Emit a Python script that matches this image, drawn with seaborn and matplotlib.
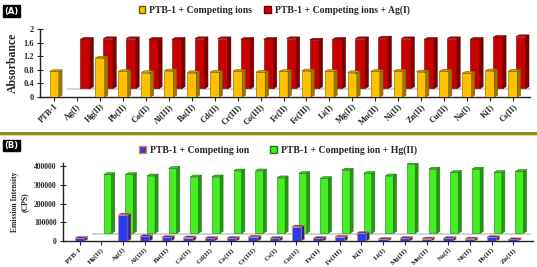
import matplotlib
matplotlib.use("Agg")
import matplotlib.pyplot as plt
from matplotlib.patches import Polygon, Patch
from matplotlib.lines import Line2D
import numpy as np
import seaborn as sns

nan = np.nan

# panel A: absorbance
ions_a = ["PTB-1", "Ag(I)", "Hg(II)", "Pb(II)", "Ca(II)", "Al(III)", "Ba(II)", "Cd(II)",
          "Cr(III)", "Co(III)", "Fe(II)", "Fe(III)", "Li(I)", "Mg(II)", "Mn(II)", "Ni(II)",
          "Zn(II)", "Cu(II)", "Na(I)", "K(I)", "Cs(II)"]
abs_ions = [0.75, nan, 1.15, 0.75, 0.72, 0.77, 0.72, 0.73, 0.76, 0.73, 0.75, 0.77,
            0.75, 0.72, 0.75, 0.76, 0.74, 0.76, 0.70, 0.77, 0.76]
abs_ions_ag = [nan, 1.70, 1.72, 1.72, 1.70, 1.70, 1.72, 1.72, 1.70, 1.70, 1.72, 1.68,
               1.70, 1.72, 1.74, 1.72, 1.70, 1.72, 1.70, 1.76, 1.78]

# panel B: emission intensity
ions_b = ["PTB-1", "Hg(II)", "Ag(I)", "Al(III)", "Ba(II)", "Ca(II)", "Cd(II)", "Co(II)",
          "Cr(III)", "Cs(I)", "Cu(II)", "Fe(II)", "Fe(III)", "K(I)", "Li(I)", "Mg(II)",
          "Mn(II)", "Na(I)", "Ni(II)", "Pb(II)", "Zn(II)"]
em_ions = [15000, nan, 140000, 25000, 20000, 18000, 15000, 15000, 22000, 15000, 76000,
           15000, 22000, 42000, 10000, 15000, 12000, 15000, 12000, 20000, 8000]
em_ions_hg = [nan, 355000, 355000, 348000, 388000, 343000, 343000, 375000, 375000, 338000,
              361000, 334000, 379000, 361000, 348000, 411000, 384000, 366000, 384000,
              366000, 372000]


def shade(c, f):
    c = np.array(matplotlib.colors.to_rgb(c))
    return tuple(np.clip(c * f, 0, 1))


def bars3d(ax, values, offset, color, edge, width, base, dx, dy, z):
    vals = np.array(values, dtype=float)
    pos = np.arange(len(vals)) + offset
    keep = ~np.isnan(vals)
    n0 = len(ax.patches)
    sns.barplot(x=pos[keep], y=vals[keep], native_scale=True, color=color, saturation=1,
                width=width, errorbar=None, edgecolor=edge, linewidth=0.4, zorder=z, ax=ax)
    for p in ax.patches[n0:]:
        top = p.get_y() + p.get_height()
        p.set_y(base)
        p.set_height(top - base)
        x0 = p.get_x()
        x1 = x0 + p.get_width()
        side = Polygon([(x1, base), (x1 + dx, base + dy), (x1 + dx, top + dy), (x1, top)],
                       closed=True, fc=shade(color, 0.62), ec=edge, lw=0.4, zorder=z)
        lid = Polygon([(x0, top), (x1, top), (x1 + dx, top + dy), (x0 + dx, top + dy)],
                      closed=True, fc=shade(color, 0.85), ec=edge, lw=0.4, zorder=z)
        ax.add_patch(side)
        ax.add_patch(lid)


def floor(ax, n, lo, hi, z):
    xs = np.array([0.55, n - 0.2])
    ax.fill_between(xs, [lo, lo], [hi, hi], color="#cdd6d6", lw=0, zorder=z)


sns.set_theme(style="white")
plt.rcParams["font.family"] = ["Liberation Serif", "DejaVu Serif"]
plt.rcParams["font.weight"] = "bold"

fig = plt.figure(figsize=(5.37, 2.67), dpi=100)
ax1 = fig.add_axes([0.0745, 0.637, 0.9125, 0.254])
ax2 = fig.add_axes([0.117, 0.0974, 0.875, 0.292])

# panel A
floor(ax1, len(ions_a), 0.2, 0.26, 1)
bars3d(ax1, abs_ions_ag, 0.35, "#c80000", "#6a0000", 0.43, 0.25, 0.14, 0.05, 2)
bars3d(ax1, abs_ions, 0.0, "#ffc000", "#7a5a00", 0.40, 0.0, 0.14, 0.05, 3)
ax1.set_ylim(0, 2)
ax1.set_xlim(-0.62, 20.75)
ax1.set_yticks([0, 0.4, 0.8, 1.2, 1.6, 2])
ax1.set_yticklabels(["0", "0.4", "0.8", "1.2", "1.6", "2"], fontsize=6)
ax1.set_xticks(range(len(ions_a)))
ax1.set_xticklabels(ions_a, rotation=45, ha="right", rotation_mode="anchor", fontsize=6)
ax1.set_ylabel("Absorbance", fontsize=8.5, fontweight="bold", labelpad=3)
ax1.set_xlabel("")

# panel B
floor(ax2, len(ions_b), 34000, 44000, 1)
bars3d(ax2, em_ions_hg, 0.29, "#44ee22", "#1d7a10", 0.37, 42000, 0.14, 9000, 2)
bars3d(ax2, em_ions, 0.0, "#2a3cf0", "#f08030", 0.45, 0.0, 0.14, 9000, 3)
ax2.set_ylim(0, 416000)
ax2.set_xlim(-0.78, 20.9)
ax2.set_yticks([0, 100000, 200000, 300000, 400000])
ax2.set_yticklabels(["0", "100000", "200000", "300000", "400000"], fontsize=5.5)
ax2.set_xticks(range(len(ions_b)))
ax2.set_xticklabels(ions_b, rotation=45, ha="right", rotation_mode="anchor", fontsize=5.2)
ax2.set_ylabel("Emission Intensity\n(CPS)", fontsize=5.5, fontweight="bold", labelpad=4)
ax2.set_xlabel("")

for ax in (ax1, ax2):
    sns.despine(ax=ax)
    for s in ("left", "bottom"):
        ax.spines[s].set_color("#222222")
        ax.spines[s].set_linewidth(1.0)
    ax.tick_params(axis="y", direction="inout", length=5, width=0.8, pad=2, left=True)
    ax.tick_params(axis="x", direction="out", length=3, width=0.8, pad=1, bottom=True)

# legends
leg_font = dict(family="Liberation Serif", weight="bold", size=7)
fig.legend([Patch(fc="#ffc000", ec="#7a5a00"), Patch(fc="#c80000", ec="#6a0000")],
           ["PTB-1 + Competing ions", "PTB-1 + Competing ions + Ag(I)"],
           loc="center left", bbox_to_anchor=(0.258, 0.962), ncol=2, frameon=False,
           handlelength=0.7, handleheight=0.7, handletextpad=0.4, columnspacing=1.2,
           borderpad=0, borderaxespad=0, prop=leg_font)
fig.legend([Patch(fc="#2a3cf0", ec="#f08030"), Patch(fc="#44ee22", ec="#1d7a10")],
           ["PTB-1 + Competing ion", "PTB-1 + Competing ion + Hg(II)"],
           loc="center left", bbox_to_anchor=(0.259, 0.438), ncol=2, frameon=False,
           handlelength=0.7, handleheight=0.7, handletextpad=0.4, columnspacing=2.2,
           borderpad=0, borderaxespad=0, prop=leg_font)

# panel tags and separator
for y, tag in ((0.975, "(A)"), (0.472, "(B)")):
    fig.text(0.008, y, tag, color="white", fontsize=6, fontweight="bold", va="top",
             family="DejaVu Sans",
             bbox=dict(boxstyle="square,pad=0.15", fc="black", ec="black"))
fig.add_artist(Line2D([0, 1], [0.503, 0.503], color="#8c8c10", lw=2.2))
fig.add_artist(Line2D([0, 1], [0.496, 0.496], color="#d8d8a0", lw=0.8))

fig.savefig("out.png", dpi=100)
